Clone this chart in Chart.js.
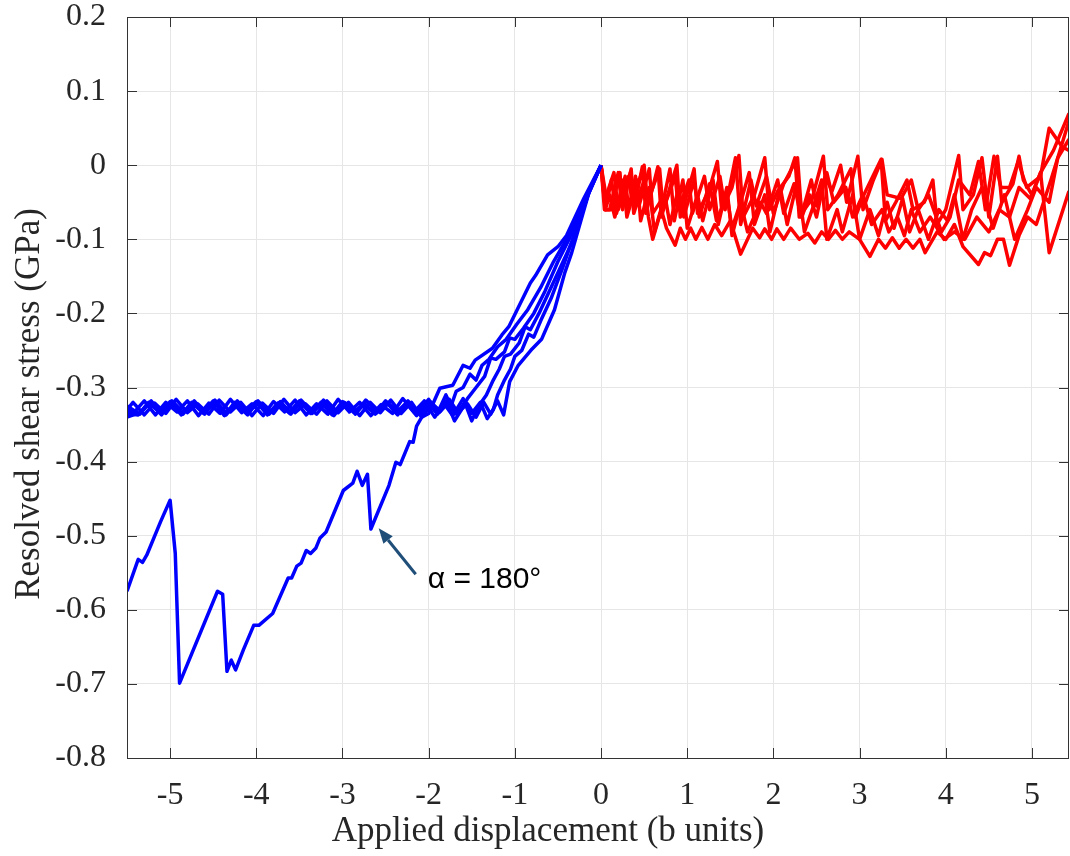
<!DOCTYPE html>
<html>
<head>
<meta charset="utf-8">
<script src="https://cdn.jsdelivr.net/npm/chart.js@4.4.1/dist/chart.umd.min.js"></script>
<style>
  html, body { margin: 0; padding: 0; background: #fff; }
  #wrap { width: 1070px; height: 856px; }
</style>
</head>
<body>
<div id="wrap"><canvas id="chart" width="1070" height="856"></canvas></div>
<script>
// Axis ranges / labels
const X_MIN = -5.5, X_MAX = 5.43;
const Y_MIN = -0.8, Y_MAX = 0.2;
const xTitle = 'Applied displacement (b units)';
const yTitle = 'Resolved shear stress (GPa)';
const noteText = 'α = 180°';
const noteTip = [-2.58, -0.49];
const noteTail = [-2.15, -0.552];
const noteAt = [-2.01, -0.571];

// Negative displacement (blue) curves: [x, y]
const blueA = [[0,0],[-0.14,-0.037],[-0.34,-0.118],[-0.42,-0.145],[-0.54,-0.195],[-0.69,-0.235],[-0.8,-0.248],[-0.96,-0.27],[-1.06,-0.292],[-1.13,-0.337],[-1.2,-0.318],[-1.28,-0.336],[-1.36,-0.32],[-1.45,-0.34],[-1.55,-0.322],[-1.66,-0.334],[-1.76,-0.316],[-1.87,-0.333],[-1.98,-0.319],[-2.1,-0.337],[-2.22,-0.322],[-2.35,-0.334],[-2.48,-0.32],[-2.6,-0.333],[-2.72,-0.318],[-2.85,-0.336],[-2.97,-0.321],[-3.1,-0.333],[-3.22,-0.317],[-3.35,-0.335],[-3.47,-0.32],[-3.6,-0.334],[-3.72,-0.319],[-3.85,-0.336],[-3.97,-0.321],[-4.1,-0.333],[-4.22,-0.318],[-4.35,-0.337],[-4.47,-0.32],[-4.6,-0.334],[-4.72,-0.318],[-4.85,-0.336],[-4.97,-0.321],[-5.1,-0.335],[-5.22,-0.318],[-5.35,-0.336],[-5.5,-0.325]];
const blueB = [[0,0],[-0.15,-0.04],[-0.3,-0.09],[-0.45,-0.14],[-0.58,-0.18],[-0.7,-0.21],[-0.78,-0.232],[-0.84,-0.228],[-0.92,-0.25],[-1.0,-0.258],[-1.05,-0.275],[-1.12,-0.29],[-1.2,-0.31],[-1.25,-0.33],[-1.32,-0.342],[-1.4,-0.32],[-1.5,-0.335],[-1.6,-0.315],[-1.72,-0.338],[-1.82,-0.322],[-1.93,-0.34],[-2.05,-0.318],[-2.17,-0.333],[-2.3,-0.315],[-2.42,-0.335],[-2.55,-0.323],[-2.67,-0.338],[-2.8,-0.32],[-2.92,-0.333],[-3.05,-0.316],[-3.17,-0.336],[-3.3,-0.322],[-3.42,-0.337],[-3.55,-0.317],[-3.67,-0.333],[-3.8,-0.319],[-3.92,-0.338],[-4.05,-0.322],[-4.17,-0.334],[-4.3,-0.316],[-4.42,-0.335],[-4.55,-0.321],[-4.67,-0.338],[-4.8,-0.318],[-4.92,-0.333],[-5.05,-0.32],[-5.17,-0.337],[-5.3,-0.318],[-5.42,-0.334],[-5.5,-0.33]];
const blueC = [[0,0],[-0.15,-0.04],[-0.32,-0.1],[-0.48,-0.14],[-0.6,-0.17],[-0.72,-0.2],[-0.82,-0.222],[-0.88,-0.218],[-0.95,-0.24],[-1.05,-0.255],[-1.12,-0.258],[-1.18,-0.275],[-1.25,-0.29],[-1.33,-0.31],[-1.42,-0.325],[-1.5,-0.345],[-1.58,-0.32],[-1.68,-0.336],[-1.8,-0.318],[-1.9,-0.335],[-2.02,-0.32],[-2.14,-0.338],[-2.26,-0.321],[-2.38,-0.334],[-2.5,-0.318],[-2.62,-0.336],[-2.75,-0.322],[-2.87,-0.333],[-3.0,-0.319],[-3.12,-0.337],[-3.25,-0.32],[-3.37,-0.335],[-3.5,-0.318],[-3.62,-0.334],[-3.75,-0.321],[-3.87,-0.337],[-4.0,-0.319],[-4.12,-0.333],[-4.25,-0.32],[-4.37,-0.338],[-4.5,-0.318],[-4.62,-0.334],[-4.75,-0.32],[-4.87,-0.337],[-5.0,-0.319],[-5.12,-0.334],[-5.25,-0.32],[-5.37,-0.337],[-5.5,-0.335]];
const blueD = [[0,0],[-0.18,-0.045],[-0.35,-0.095],[-0.5,-0.13],[-0.65,-0.17],[-0.78,-0.2],[-0.9,-0.22],[-1.0,-0.235],[-1.06,-0.233],[-1.12,-0.252],[-1.22,-0.262],[-1.28,-0.26],[-1.35,-0.285],[-1.45,-0.3],[-1.55,-0.315],[-1.62,-0.33],[-1.7,-0.345],[-1.78,-0.322],[-1.9,-0.336],[-2.0,-0.316],[-2.12,-0.333],[-2.24,-0.318],[-2.36,-0.337],[-2.48,-0.321],[-2.6,-0.334],[-2.73,-0.317],[-2.85,-0.335],[-2.98,-0.32],[-3.1,-0.338],[-3.23,-0.321],[-3.35,-0.333],[-3.48,-0.317],[-3.6,-0.336],[-3.73,-0.32],[-3.85,-0.334],[-3.98,-0.318],[-4.1,-0.337],[-4.23,-0.322],[-4.35,-0.334],[-4.48,-0.317],[-4.6,-0.336],[-4.73,-0.321],[-4.85,-0.333],[-4.98,-0.318],[-5.1,-0.337],[-5.23,-0.32],[-5.35,-0.334],[-5.5,-0.34]];
const blueE = [[0,0],[-0.2,-0.05],[-0.4,-0.1],[-0.55,-0.13],[-0.7,-0.165],[-0.85,-0.195],[-0.98,-0.215],[-1.1,-0.235],[-1.2,-0.245],[-1.3,-0.262],[-1.38,-0.27],[-1.45,-0.29],[-1.52,-0.282],[-1.6,-0.3],[-1.68,-0.305],[-1.74,-0.325],[-1.8,-0.31],[-1.88,-0.33],[-1.96,-0.322],[-2.08,-0.34],[-2.2,-0.32],[-2.32,-0.335],[-2.44,-0.317],[-2.56,-0.334],[-2.68,-0.32],[-2.8,-0.338],[-2.93,-0.32],[-3.05,-0.334],[-3.18,-0.318],[-3.3,-0.336],[-3.43,-0.322],[-3.55,-0.334],[-3.68,-0.316],[-3.8,-0.335],[-3.93,-0.321],[-4.05,-0.338],[-4.18,-0.32],[-4.3,-0.333],[-4.43,-0.317],[-4.55,-0.336],[-4.68,-0.322],[-4.8,-0.334],[-4.93,-0.316],[-5.05,-0.335],[-5.18,-0.321],[-5.3,-0.337],[-5.43,-0.32],[-5.5,-0.33]];
// alpha = 180 deg curve
const blueAlpha = [[0,0],[-0.2,-0.045],[-0.4,-0.095],[-0.5,-0.11],[-0.62,-0.121],[-0.76,-0.149],[-0.82,-0.159],[-1.07,-0.218],[-1.15,-0.229],[-1.26,-0.247],[-1.46,-0.263],[-1.52,-0.274],[-1.6,-0.27],[-1.72,-0.297],[-1.87,-0.301],[-2.0,-0.335],[-2.08,-0.34],[-2.14,-0.352],[-2.18,-0.374],[-2.22,-0.373],[-2.33,-0.404],[-2.38,-0.401],[-2.46,-0.432],[-2.67,-0.491],[-2.71,-0.417],[-2.77,-0.432],[-2.83,-0.413],[-2.88,-0.429],[-2.99,-0.439],[-3.19,-0.495],[-3.26,-0.503],[-3.31,-0.517],[-3.37,-0.524],[-3.42,-0.52],[-3.48,-0.537],[-3.53,-0.541],[-3.59,-0.557],[-3.63,-0.557],[-3.81,-0.605],[-3.97,-0.621],[-4.03,-0.621],[-4.15,-0.654],[-4.24,-0.681],[-4.29,-0.668],[-4.34,-0.683],[-4.39,-0.579],[-4.45,-0.575],[-4.89,-0.699],[-4.94,-0.524],[-5.0,-0.452],[-5.11,-0.481],[-5.27,-0.526],[-5.32,-0.536],[-5.37,-0.532],[-5.5,-0.575]];

// Positive displacement (red) curves: [x, y]
const redA = [[0,0],[0.04,-0.06],[0.1,-0.06],[0.2,-0.01],[0.24,-0.055],[0.34,-0.01],[0.38,-0.065],[0.5,-0.02],[0.55,-0.07],[0.6,-0.1],[0.7,-0.06],[0.76,-0.085],[0.86,-0.108],[0.92,-0.085],[0.98,-0.1],[1.04,-0.085],[1.1,-0.1],[1.17,-0.084],[1.24,-0.1],[1.32,-0.08],[1.4,-0.095],[1.5,-0.075],[1.62,-0.12],[1.76,-0.085],[1.84,-0.098],[1.9,-0.086],[1.98,-0.1],[2.04,-0.086],[2.12,-0.1],[2.2,-0.085],[2.3,-0.1],[2.4,-0.092],[2.48,-0.105],[2.56,-0.09],[2.64,-0.1],[2.72,-0.088],[2.8,-0.1],[2.88,-0.09],[3.0,-0.1],[3.12,-0.123],[3.22,-0.1],[3.3,-0.112],[3.38,-0.098],[3.46,-0.112],[3.54,-0.1],[3.62,-0.112],[3.7,-0.1],[3.76,-0.118],[3.9,-0.09],[4.0,-0.1],[4.1,-0.08],[4.2,-0.11],[4.38,-0.134],[4.45,-0.118],[4.52,-0.122],[4.6,-0.1],[4.67,-0.1],[4.74,-0.135],[4.85,-0.095],[4.95,-0.07],[5.05,-0.08],[5.22,-0.02],[5.3,0.01],[5.43,0.06]];
const redB = [[0,0],[0.05,-0.06],[0.12,-0.06],[0.22,-0.01],[0.25,-0.06],[0.35,-0.005],[0.38,-0.06],[0.48,-0.002],[0.52,-0.065],[0.6,-0.03],[0.66,-0.002],[0.7,-0.07],[0.8,-0.03],[0.88,0.0],[0.92,-0.07],[1.02,-0.03],[1.08,-0.005],[1.12,-0.065],[1.25,-0.035],[1.35,0.005],[1.4,-0.06],[1.52,-0.03],[1.6,0.013],[1.65,-0.07],[1.78,-0.04],[1.9,0.01],[1.95,-0.06],[2.05,-0.035],[2.18,-0.015],[2.25,0.01],[2.3,-0.07],[2.45,-0.045],[2.58,0.012],[2.63,-0.06],[2.75,-0.04],[2.9,-0.005],[2.95,-0.07],[3.05,-0.04],[3.25,0.008],[3.3,-0.075],[3.42,-0.05],[3.55,-0.02],[3.62,-0.06],[3.75,-0.05],[3.85,-0.02],[3.9,-0.08],[4.0,-0.06],[4.15,0.013],[4.2,-0.06],[4.32,-0.04],[4.42,0.01],[4.5,-0.07],[4.6,0.012],[4.65,-0.05],[4.78,-0.025],[4.85,0.012],[4.9,-0.02],[5.0,-0.04],[5.1,-0.01],[5.25,0.02],[5.43,0.07]];
const redC = [[0,0],[0.05,-0.06],[0.1,-0.04],[0.16,-0.07],[0.26,-0.02],[0.3,-0.07],[0.42,-0.02],[0.46,-0.075],[0.56,-0.03],[0.62,-0.09],[0.72,-0.05],[0.8,-0.005],[0.85,-0.075],[0.95,-0.02],[1.0,-0.085],[1.12,-0.04],[1.18,-0.075],[1.3,-0.02],[1.36,-0.08],[1.46,-0.03],[1.52,-0.095],[1.62,-0.05],[1.72,-0.01],[1.78,-0.08],[1.9,-0.04],[1.96,-0.09],[2.08,-0.03],[2.16,-0.08],[2.28,-0.02],[2.36,-0.09],[2.48,-0.05],[2.56,-0.02],[2.62,-0.1],[2.74,-0.06],[2.8,-0.09],[2.92,-0.04],[3.0,-0.1],[3.12,-0.06],[3.22,-0.095],[3.32,-0.05],[3.4,-0.085],[3.5,-0.045],[3.58,-0.09],[3.68,-0.06],[3.8,-0.1],[3.92,-0.06],[4.02,-0.075],[4.1,-0.04],[4.2,-0.1],[4.3,-0.06],[4.42,-0.03],[4.55,-0.085],[4.68,-0.04],[4.8,-0.1],[4.95,-0.06],[5.05,-0.03],[5.2,-0.05],[5.3,0.01],[5.43,0.035]];
const redD = [[0,0],[0.07,-0.05],[0.12,-0.02],[0.18,-0.065],[0.28,-0.015],[0.32,-0.06],[0.4,-0.015],[0.44,-0.055],[0.56,-0.005],[0.6,-0.065],[0.74,-0.04],[0.8,-0.08],[0.9,-0.03],[0.96,-0.07],[1.08,-0.02],[1.14,-0.07],[1.26,-0.025],[1.34,-0.075],[1.46,-0.04],[1.52,-0.085],[1.62,-0.05],[1.7,-0.09],[1.85,-0.05],[1.92,-0.065],[2.05,-0.02],[2.12,-0.065],[2.24,-0.025],[2.32,-0.07],[2.44,-0.02],[2.5,-0.055],[2.62,-0.01],[2.7,-0.05],[2.84,-0.03],[2.92,-0.07],[3.04,-0.04],[3.14,-0.08],[3.26,-0.06],[3.34,-0.09],[3.44,-0.07],[3.52,-0.095],[3.6,-0.06],[3.7,-0.09],[3.82,-0.07],[3.98,-0.1],[4.1,-0.09],[4.22,-0.1],[4.36,-0.07],[4.5,-0.09],[4.62,-0.06],[4.74,-0.07],[4.85,-0.03],[4.98,-0.045],[5.1,-0.01],[5.2,-0.118],[5.43,-0.035]];
const redE = [[0,0],[0.05,-0.045],[0.15,-0.01],[0.2,-0.06],[0.32,-0.015],[0.36,-0.05],[0.5,0.0],[0.54,-0.05],[0.68,-0.005],[0.72,-0.06],[0.86,-0.015],[0.9,-0.06],[1.02,-0.02],[1.06,-0.065],[1.2,-0.015],[1.26,-0.06],[1.38,-0.015],[1.44,-0.06],[1.56,0.01],[1.62,-0.08],[1.74,-0.02],[1.8,-0.055],[1.92,-0.015],[2.0,-0.065],[2.12,-0.025],[2.28,0.01],[2.33,-0.07],[2.42,-0.04],[2.5,-0.07],[2.6,-0.015],[2.68,-0.035],[2.78,0.0],[2.85,-0.05],[2.98,0.012],[3.04,-0.06],[3.16,-0.02],[3.26,0.008],[3.32,-0.04],[3.48,-0.045],[3.6,-0.02],[3.68,-0.06],[3.8,-0.04],[3.95,-0.09],[4.05,-0.07],[4.15,-0.02],[4.28,-0.04],[4.38,0.005],[4.46,-0.06],[4.56,0.012],[4.64,-0.03],[4.74,-0.03],[4.84,0.005],[4.94,-0.03],[5.1,-0.015],[5.2,0.05],[5.35,0.025],[5.43,0.02]];

const blueCurves = [blueA, blueB, blueC, blueD, blueE, blueAlpha];
const redCurves = [redA, redB, redC, redD, redE];

const AXIS_COLOR = '#333333';
const TEXT_COLOR = '#262626';
const SERIF = '"Liberation Serif", "Times New Roman", serif';

function toPoints(arr) {
    return arr.map(p => ({ x: p[0], y: p[1] }));
}

function lineSet(arr, color) {
    return {
        data: toPoints(arr),
        showLine: true,
        borderColor: color,
        backgroundColor: color,
        borderWidth: 3.5,
        borderJoinStyle: 'round',
        pointRadius: 0,
        tension: 0
    };
}

const datasets = [
    ...blueCurves.map(c => lineSet(c, '#0000ff')),
    ...redCurves.map(c => lineSet(c, '#ff0000'))
];

// Box with inward ticks, axis titles and the arrow note
const framePlugin = {
    id: 'frame',
    afterDraw(chart) {
        const { ctx, chartArea: a, scales } = chart;
        const xs = scales.x, ys = scales.y;
        ctx.save();
        ctx.strokeStyle = AXIS_COLOR;
        ctx.lineWidth = 1;
        ctx.strokeRect(Math.round(a.left) + 0.5, Math.round(a.top) + 0.5,
            Math.round(a.right - a.left) - 1, Math.round(a.bottom - a.top));
        ctx.beginPath();
        const tl = 10;
        xs.ticks.forEach(t => {
            const px = Math.round(xs.getPixelForValue(t.value)) + 0.5;
            ctx.moveTo(px, a.bottom); ctx.lineTo(px, a.bottom - tl);
            ctx.moveTo(px, a.top); ctx.lineTo(px, a.top + tl);
        });
        ys.ticks.forEach(t => {
            const py = Math.round(ys.getPixelForValue(t.value)) + 0.5;
            ctx.moveTo(a.left, py); ctx.lineTo(a.left + tl, py);
            ctx.moveTo(a.right, py); ctx.lineTo(a.right - tl, py);
        });
        ctx.stroke();

        // axis titles
        ctx.fillStyle = TEXT_COLOR;
        ctx.font = '35px ' + SERIF;
        ctx.textAlign = 'center';
        ctx.textBaseline = 'middle';
        ctx.fillText(xTitle, 548, 832);
        ctx.save();
        ctx.translate(30, 404);
        ctx.rotate(-Math.PI / 2);
        ctx.fillText(yTitle, 0, 0);
        ctx.restore();

        // arrow note
        const tx = xs.getPixelForValue(noteTip[0]), ty = ys.getPixelForValue(noteTip[1]);
        const sx = xs.getPixelForValue(noteTail[0]), sy = ys.getPixelForValue(noteTail[1]);
        const ang = Math.atan2(ty - sy, tx - sx);
        const head = 15, hw = 6;
        const bx = tx - head * Math.cos(ang), by = ty - head * Math.sin(ang);
        ctx.strokeStyle = '#1f4e79';
        ctx.fillStyle = '#1f4e79';
        ctx.lineWidth = 3;
        ctx.beginPath();
        ctx.moveTo(sx, sy); ctx.lineTo(bx, by);
        ctx.stroke();
        ctx.beginPath();
        ctx.moveTo(tx, ty);
        ctx.lineTo(bx + hw * Math.sin(ang), by - hw * Math.cos(ang));
        ctx.lineTo(bx - hw * Math.sin(ang), by + hw * Math.cos(ang));
        ctx.closePath();
        ctx.fill();

        ctx.fillStyle = '#000';
        ctx.font = '30px "Liberation Sans", Arial, sans-serif';
        ctx.textAlign = 'left';
        ctx.textBaseline = 'alphabetic';
        ctx.fillText(noteText, xs.getPixelForValue(noteAt[0]), ys.getPixelForValue(noteAt[1]));
        ctx.restore();
    }
};

new Chart(document.getElementById('chart'), {
    type: 'scatter',
    data: { datasets: datasets },
    options: {
        responsive: false,
        animation: false,
        devicePixelRatio: 1,
        layout: { padding: { left: 0, right: 1, top: 17, bottom: 0 } },
        plugins: {
            legend: { display: false },
            tooltip: { enabled: false }
        },
        scales: {
            x: {
                type: 'linear',
                min: X_MIN,
                max: X_MAX,
                afterFit: s => { s.height = 98; s.paddingLeft = 0; s.paddingRight = 0; },
                grid: { color: '#e6e6e6', lineWidth: 1, drawTicks: false },
                border: { display: false },
                ticks: {
                    stepSize: 1,
                    includeBounds: false,
                    padding: 18,
                    maxRotation: 0,
                    color: TEXT_COLOR,
                    font: { family: SERIF, size: 32 },
                    callback: v => String(v)
                }
            },
            y: {
                type: 'linear',
                min: Y_MIN,
                max: Y_MAX,
                afterFit: s => { s.width = 127; s.paddingTop = 0; s.paddingBottom = 0; },
                grid: { color: '#e6e6e6', lineWidth: 1, drawTicks: false },
                border: { display: false },
                ticks: {
                    stepSize: 0.1,
                    includeBounds: false,
                    padding: 21,
                    color: TEXT_COLOR,
                    font: { family: SERIF, size: 32 },
                    callback: v => String(Number(v.toFixed(1)))
                }
            }
        }
    },
    plugins: [framePlugin]
});
</script>
</body>
</html>
